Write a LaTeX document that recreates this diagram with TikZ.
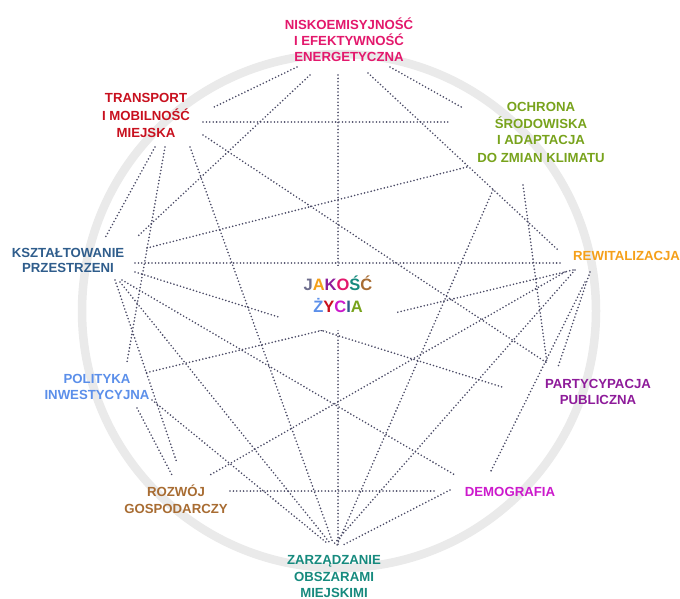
\documentclass[tikz,border=0pt]{standalone}
\usepackage{fontspec}
\setmainfont{Liberation Sans}
\definecolor{cN}{HTML}{E3186C}
\definecolor{cT}{HTML}{C8101E}
\definecolor{cO}{HTML}{78A31C}
\definecolor{cK}{HTML}{2F5D8C}
\definecolor{cR}{HTML}{F5A01A}
\definecolor{cP}{HTML}{5B8FEA}
\definecolor{cA}{HTML}{8E1B9A}
\definecolor{cG}{HTML}{A86C32}
\definecolor{cD}{HTML}{CC19CC}
\definecolor{cZ}{HTML}{168A7E}
\definecolor{cJ}{HTML}{6E6E8E}
\definecolor{cLine}{HTML}{4A4A66}
\definecolor{cRing}{HTML}{EAEAEA}
\begin{document}
\begin{tikzpicture}[x=1pt,y=-1pt,
  lbl/.style={inner sep=0pt, anchor=base, font=\fontsize{13.2}{16}\selectfont\bfseries},
  big/.style={inner sep=0pt, anchor=base, font=\fontsize{16.5}{20}\selectfont\bfseries},
  conn/.style={draw=cLine, line width=1.8pt, line cap=round, dash pattern=on 0pt off 3.4pt}]
\useasboundingbox (0,0) rectangle (680,599);
\fill[white] (0,0) rectangle (680,599);
\draw[line width=8.5pt, cRing] (339,311) circle[radius=257];

% endpoints
\coordinate (NT) at (297,67);  \coordinate (TN) at (212,108);
\coordinate (NK) at (310,75);  \coordinate (KN) at (137,237);
\coordinate (NZ) at (338,75);  \coordinate (ZN) at (338,545);
\coordinate (NR) at (368,73);  \coordinate (RN) at (558,250);
\coordinate (NO) at (390,67);  \coordinate (ON) at (463,108);
\coordinate (TO) at (203,122); \coordinate (OT) at (450,122);
\coordinate (TA) at (203,135); \coordinate (AT) at (547,363);
\coordinate (TK) at (155,147); \coordinate (KT) at (105,238);
\coordinate (TP) at (165,147); \coordinate (PT) at (127,362);
\coordinate (TZ) at (190,147); \coordinate (ZT) at (333,543);
\coordinate (KO) at (147,248); \coordinate (OK) at (467,167);
\coordinate (KR) at (135,263); \coordinate (RK) at (560,263);
\coordinate (KA) at (135,272); \coordinate (AK) at (502,387);
\coordinate (KG) at (115,280); \coordinate (GK) at (177,463);
\coordinate (KZ) at (120,282); \coordinate (ZK) at (330,543);
\coordinate (KD) at (122,280); \coordinate (DK) at (455,475);
\coordinate (OZ) at (493,190); \coordinate (ZO) at (337,545);
\coordinate (OA) at (523,185); \coordinate (AO) at (547,363);
\coordinate (RP) at (573,270); \coordinate (PR) at (145,373);
\coordinate (RG) at (565,272); \coordinate (GR) at (210,475);
\coordinate (RZ) at (575,270); \coordinate (ZR) at (333,545);
\coordinate (RD) at (585,282); \coordinate (DR) at (490,473);
\coordinate (RA) at (590,272); \coordinate (AR) at (558,367);
\coordinate (PG) at (137,408); \coordinate (GP) at (173,477);
\coordinate (PZ) at (152,400); \coordinate (ZP) at (327,543);
\coordinate (GD) at (230,491); \coordinate (DG) at (437,491);
\coordinate (DZ) at (450,490); \coordinate (ZD) at (343,545);

\foreach \a/\b in {NT/TN,NK/KN,NZ/ZN,NR/RN,NO/ON,TO/OT,TA/AT,TK/KT,TP/PT,TZ/ZT,
  KO/OK,KR/RK,KA/AK,KG/GK,KZ/ZK,KD/DK,OZ/ZO,OA/AO,RP/PR,RG/GR,RZ/ZR,RD/DR,RA/AR,
  PG/GP,PZ/ZP,GD/DG,DZ/ZD}
  \draw[conn] (\a) -- (\b);

% centre
\node[fill=white, inner sep=0pt, minimum width=117pt, minimum height=64pt] (jak) at (338.5,298) {};
\node[big] (jak1) at (338,290) {\textcolor{cJ}{J}\textcolor{cR}{A}\textcolor{cA}{K}\textcolor{cN}{O}\textcolor{cZ}{Ś}\textcolor{cG}{Ć}};
\node[big] (jak2) at (338,312) {\textcolor{cP}{Ż}\textcolor{cT}{Y}\textcolor{cD}{C}\textcolor{cK}{I}\textcolor{cO}{A}};

% labels
\node[lbl, text=cN] (n1) at (349,30) {NISKOEMISYJNOŚĆ};
\node[lbl, text=cN] (n2) at (349,46) {I EFEKTYWNOŚĆ};
\node[lbl, text=cN] (n3) at (349,62) {ENERGETYCZNA};

\node[lbl, text=cT] (t1) at (146,103) {TRANSPORT};
\node[lbl, text=cT] (t2) at (146,121) {I MOBILNOŚĆ};
\node[lbl, text=cT] (t3) at (146,138) {MIEJSKA};

\node[lbl, text=cO] (o1) at (541,112) {OCHRONA};
\node[lbl, text=cO] (o2) at (541,129) {ŚRODOWISKA};
\node[lbl, text=cO] (o3) at (541,145) {I ADAPTACJA};
\node[lbl, text=cO] (o4) at (541,162) {DO ZMIAN KLIMATU};

\node[lbl, text=cK] (k1) at (68,257) {KSZTAŁTOWANIE};
\node[lbl, text=cK] (k2) at (68,272) {PRZESTRZENI};

\node[lbl, text=cR, anchor=base west] (r1) at (573,260) {REWITALIZACJA};

\node[lbl, text=cP] (p1) at (97,383) {POLITYKA};
\node[lbl, text=cP] (p2) at (97,399) {INWESTYCYJNA};

\node[lbl, text=cA] (a1) at (598,388) {PARTYCYPACJA};
\node[lbl, text=cA] (a2) at (598,404) {PUBLICZNA};

\node[lbl, text=cG] (g1) at (176,496) {ROZWÓJ};
\node[lbl, text=cG] (g2) at (176,513) {GOSPODARCZY};

\node[lbl, text=cD] (d1) at (510,496) {DEMOGRAFIA};

\node[lbl, text=cZ] (z1) at (334,564) {ZARZĄDZANIE};
\node[lbl, text=cZ] (z2) at (334,581) {OBSZARAMI};
\node[lbl, text=cZ] (z3) at (334,597) {MIEJSKIMI};
\end{tikzpicture}
\end{document}
